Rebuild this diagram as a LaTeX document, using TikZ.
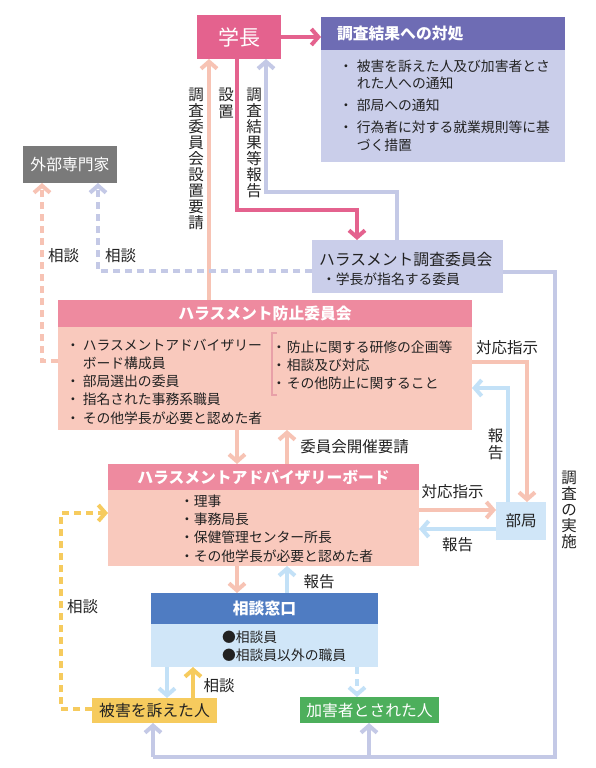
\documentclass[tikz,border=0pt]{standalone}
\usepackage{fontspec}
\setmainfont{Noto Sans CJK JP}
\usetikzlibrary{arrows.meta}
\definecolor{cPink}{HTML}{E4628E}
\definecolor{cPurpleHd}{HTML}{6E6CB4}
\definecolor{cLav}{HTML}{CACEEA}
\definecolor{cLavLine}{HTML}{C4C9E6}
\definecolor{cGray}{HTML}{7A7A7A}
\definecolor{cRoseHd}{HTML}{EE8A9F}
\definecolor{cSalmon}{HTML}{F9C9BD}
\definecolor{cSalmonLine}{HTML}{F7C3B4}
\definecolor{cBlueHd}{HTML}{4F7CC2}
\definecolor{cLightBlue}{HTML}{D0E6F8}
\definecolor{cBlueLine}{HTML}{C3E1F7}
\definecolor{cYellow}{HTML}{F6CB5E}
\definecolor{cGreen}{HTML}{4DAF5C}
\definecolor{cBracket}{HTML}{E8A0A8}
\definecolor{cText}{HTML}{222222}
\newcommand\fb[1]{\fontsize{13.8}{#1}\selectfont}
\newcommand\flab{\fontsize{15.5}{16}\selectfont}
\begin{document}
\begin{tikzpicture}[x=1pt,y=-1pt,
  box/.style={inner sep=0pt,outer sep=0pt,draw=none},
  txt/.style={inner sep=0pt,outer sep=0pt,text=cText},
  lab/.style={inner sep=0pt,outer sep=0pt,text=cText,font=\flab,align=center},
  hd/.style={text=white,font=\fontsize{15.8}{16}\selectfont\bfseries},
  conn/.style={line width=4pt},
  arr/.style={conn,-{Straight Barb[length=7pt,width=16pt]}},
  dsh/.style={dash pattern=on 7pt off 5pt}
]
\useasboundingbox (0,0) rectangle (595,768);

% boxes
\node[box,fill=cPink,minimum width=84pt,minimum height=44pt,text=white,font=\fontsize{21}{21}\selectfont] (gakucho) at (239,37) {学長};
\node[box,fill=cLav,minimum width=244pt,minimum height=145pt] (taisho) at (443,89.5) {};
\node[box,fill=cPurpleHd,minimum width=244pt,minimum height=33pt] (taishohd) at (443,33.5) {};
\node[txt,hd,anchor=west] (taishot) at (337,33.5) {調査結果への対処};
\node[txt,anchor=base west] (taishob) at (339,71.2) {\fb{17.5}\begin{tabular}[t]{@{}l@{\hspace{4pt}}l@{}}・&被害を訴えた人及び加害者とさ\\&れた人への通知\\[4.5pt]・&部局への通知\\[4.5pt]・&行為者に対する就業規則等に基\\&づく措置\end{tabular}};

\node[box,fill=cGray,minimum width=94pt,minimum height=37pt,text=white,font=\fontsize{15.8}{16}\selectfont] (gaibu) at (70,164.5) {外部専門家};

\node[box,fill=cLav,minimum width=191pt,minimum height=53pt] (chosa) at (407.5,266.5) {};
\node[txt,anchor=base west,font=\fontsize{15.8}{16}\selectfont] (chosat) at (319,265) {ハラスメント調査委員会};
\node[txt,anchor=base west,font=\fb{18}] (chosab) at (322,284.2) {・学長が指名する委員};

\node[box,fill=cSalmon,minimum width=414pt,minimum height=130pt] (boshi) at (265,365) {};
\node[box,fill=cRoseHd,minimum width=414pt,minimum height=27pt,hd] (boshihd) at (265,313.5) {ハラスメント防止委員会};
\node[txt,anchor=base west] (boshil) at (66,350.2) {\fb{18.25}\begin{tabular}[t]{@{}l@{\hspace{3pt}}l@{}}・&ハラスメントアドバイザリー\\&ボード構成員\\・&部局選出の委員\\・&指名された事務系職員\\・&その他学長が必要と認めた者\end{tabular}};
\node[txt,anchor=base west] (boshir) at (272,352.2) {\fb{18}\begin{tabular}[t]{@{}l@{\hspace{1pt}}l@{}}・&防止に関する研修の企画等\\・&相談及び対応\\・&その他防止に関すること\end{tabular}};
\draw[cBracket,line width=1.5pt] (276.5,333) -- (272,333) -- (272,395) -- (276.5,395);

\node[box,fill=cSalmon,minimum width=311pt,minimum height=102pt] (board) at (263.5,515) {};
\node[box,fill=cRoseHd,minimum width=311pt,minimum height=26pt,hd] (boardhd) at (263.5,477) {ハラスメントアドバイザリーボード};
\node[txt,anchor=base west] (boardb) at (180,506.2) {\fb{18.3}\begin{tabular}[t]{@{}l@{}l@{}}・&理事\\・&事務局長\\・&保健管理センター所長\\・&その他学長が必要と認めた者\end{tabular}};

\node[box,fill=cLightBlue,minimum width=227pt,minimum height=74pt] (soudan) at (264.5,630) {};
\node[box,fill=cBlueHd,minimum width=227pt,minimum height=31pt,hd] (soudanhd) at (264.5,608.5) {相談窓口};
\node[txt,anchor=base west] (soudanb) at (222,642.2) {\fb{18}\begin{tabular}[t]{@{}l@{}}●相談員\\●相談員以外の職員\end{tabular}};

\node[box,fill=cYellow,minimum width=125pt,minimum height=25pt,text=cText,font=\fontsize{15.8}{16}\selectfont] (higai) at (154.5,710.5) {被害を訴えた人};
\node[box,fill=cGreen,minimum width=139pt,minimum height=26pt,text=white,font=\fontsize{15.8}{16}\selectfont] (kagai) at (369.5,710) {加害者とされた人};
\node[box,fill=cLightBlue,minimum width=50pt,minimum height=38pt,text=cText,font=\fontsize{15.5}{16}\selectfont] (bukyoku) at (521,521) {部局};

% connectors
\draw[arr,cPink] (gakucho.east) -- (gakucho.east -| taisho.west);
\draw[arr,cPink] (237,0 |- gakucho.south) -- (237,210) -- (357,210) -- (357,0 |- chosa.north);
\draw[arr,cLavLine] (397,0 |- chosa.north) -- (397,192) -- (266,192) -- (266,0 |- gakucho.south);
\draw[arr,cSalmonLine] (209,0 |- boshi.north) -- (209,0 |- gakucho.south);
\draw[arr,dsh,cSalmonLine] (boshi.west |- 0,361) -- (42,361) -- (42,0 |- gaibu.south);
\draw[arr,dsh,cLavLine] (chosa.west |- 0,271) -- (98,271) -- (98,0 |- gaibu.south);
\draw[conn,cLavLine] (chosa.east |- 0,272) -- (555,272) -- (555,757) -- (153,757);
\draw[arr,cLavLine] (153,757) -- (153,0 |- higai.south);
\draw[arr,cLavLine] (369,757) -- (369,0 |- kagai.south);
\draw[arr,cSalmonLine] (237,0 |- boshi.south) -- (237,0 |- board.north);
\draw[arr,cSalmonLine] (287,0 |- board.north) -- (287,0 |- boshi.south);
\draw[arr,cSalmonLine] (boshi.east |- 0,362) -- (527,362) -- (527,0 |- bukyoku.north);
\draw[arr,cBlueLine] (508,0 |- bukyoku.north) -- (508,388) -- (boshi.east |- 0,388);
\draw[arr,cSalmonLine] (board.east |- 0,510) -- (bukyoku.west |- 0,510);
\draw[arr,cBlueLine] (bukyoku.west |- 0,529) -- (board.east |- 0,529);
\draw[arr,cSalmonLine] (237,0 |- board.south) -- (237,0 |- soudan.north);
\draw[arr,cBlueLine] (287,0 |- soudan.north) -- (287,0 |- board.south);
\draw[arr,cBlueLine] (167,0 |- soudan.south) -- (167,0 |- higai.north);
\draw[arr,cYellow] (193,0 |- higai.north) -- (193,0 |- soudan.south);
\draw[arr,dsh,cBlueLine] (357,0 |- soudan.south) -- (357,0 |- kagai.north);
\draw[arr,dsh,cYellow] (higai.west |- 0,709) -- (61,709) -- (61,513) -- (board.west |- 0,513);

% labels
\node[lab,anchor=north] (lbYosei) at (196,88) {調\\査\\委\\員\\会\\設\\置\\要\\請};
\node[lab,anchor=north,font=\fontsize{15.5}{17}\selectfont] (lbSecchi) at (226,88) {設\\置};
\node[lab,anchor=north] (lbKekka) at (254,88) {調\\査\\結\\果\\等\\報\\告};
\node[lab] (lbSoudanA) at (63.5,256) {相談};
\node[lab] (lbSoudanB) at (120.5,256) {相談};
\node[lab] (lbTaiouA) at (507,348) {対応指示};
\node[lab,font=\fontsize{15.5}{17}\selectfont] (lbHoukokuA) at (495.5,444.5) {報\\告};
\node[lab] (lbKaisai) at (354.5,447) {委員会開催要請};
\node[lab] (lbTaiouB) at (452.5,492) {対応指示};
\node[lab] (lbHoukokuB) at (457.5,545) {報告};
\node[lab] (lbHoukokuC) at (319,582) {報告};
\node[lab] (lbSoudanC) at (219,686) {相談};
\node[lab] (lbSoudanD) at (82.5,607) {相談};
\node[lab] (lbJisshi) at (569,509.5) {調\\査\\の\\実\\施};
\end{tikzpicture}
\end{document}
